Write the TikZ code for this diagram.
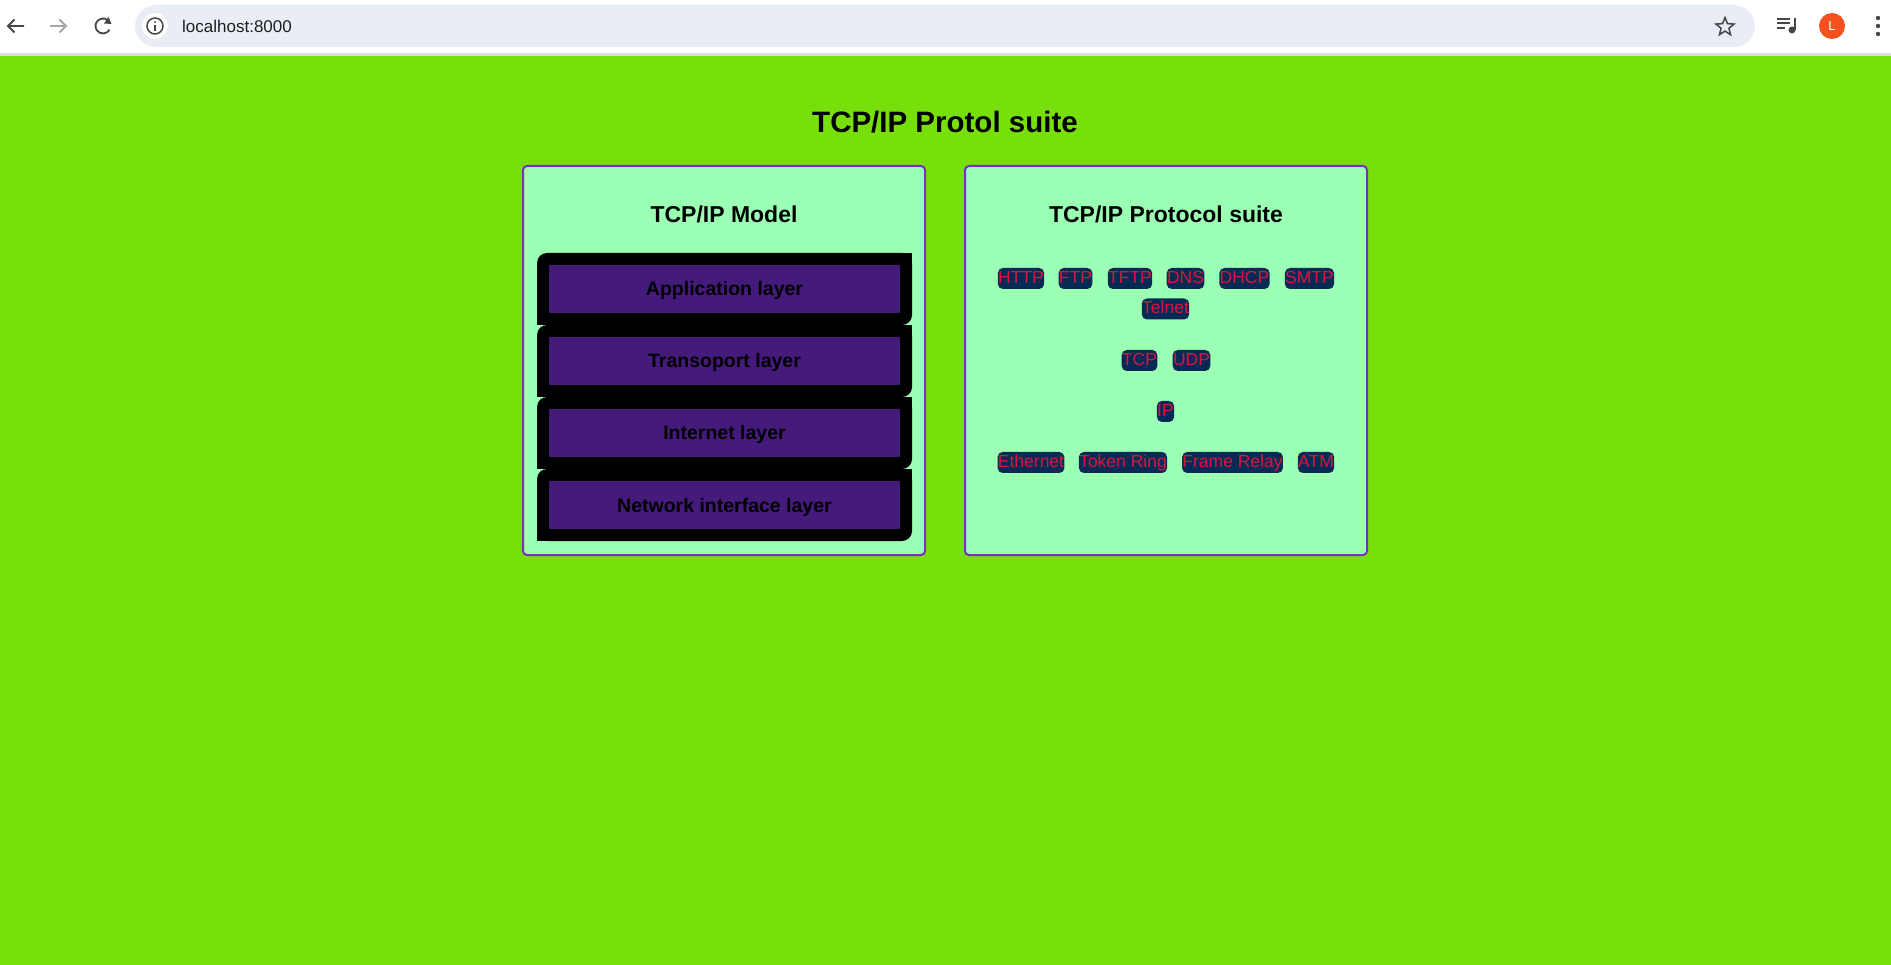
\documentclass[tikz,border=0pt]{standalone}
\usepackage{fontspec}
\setmainfont{Liberation Sans}
\usetikzlibrary{shapes.geometric}

\definecolor{pagebg}{HTML}{77E00B}
\definecolor{panelfill}{HTML}{9BFFB4}
\definecolor{panelborder}{HTML}{7B2FBE}
\definecolor{layerfill}{HTML}{441A7B}
\definecolor{tagfill}{HTML}{052A55}
\definecolor{tagtext}{HTML}{DC143C}
\definecolor{urlbar}{HTML}{E9EEF6}
\definecolor{chromeicon}{HTML}{474747}
\definecolor{avatar}{HTML}{F4511E}

\begin{document}
\begin{tikzpicture}[
        x=1pt, y=-1pt,
        title/.style={font=\fontsize{29.5}{34}\selectfont\bfseries, anchor=base},
        heading/.style={font=\fontsize{23}{27}\selectfont\bfseries, anchor=base},
        panel/.style={draw=panelborder, line width=2pt, fill=panelfill, rounded corners=4pt},
        layerframe/.style={fill=black, rounded corners=10pt},
        layer/.style={fill=layerfill, minimum width=351, minimum height=48, inner sep=0pt,
            text height=14pt, text depth=0pt, font=\fontsize{19.5}{23}\selectfont\bfseries},
        tag/.style={fill=tagfill, text=tagtext, rounded corners=5pt, inner xsep=0.3pt, inner ysep=0pt,
            minimum height=21, text height=13.5pt, text depth=3.5pt, font=\fontsize{17.5}{21}\selectfont},
        icon/.style={draw=chromeicon, line width=1.8pt}
    ]
        \useasboundingbox (0,0) rectangle (1891,965);

        % Browser bar
        \fill[white] (0,0) rectangle (1891,53);
        \fill[black!13] (0,53) rectangle (1891,56);
        \fill[urlbar, rounded corners=21pt] (135,5) rectangle (1755,47);
        \fill[white] (155,26) circle (13);
        \draw[icon, line width=1.5pt] (155,26) circle (8);
        \fill[chromeicon] (155,22) circle (1.2);
        \draw[icon, line width=1.6pt] (155,25) -- (155,31);
        \node[anchor=west, text=black!88, font=\fontsize{17}{20}\selectfont, inner sep=0pt] (url) at (182,26) {localhost:8000};
        \draw[icon] (24,26) -- (8,26) (14.5,19.5) -- (8,26) -- (14.5,32.5);
        \draw[icon, draw=black!35] (50,26) -- (66,26) (59.5,19.5) -- (66,26) -- (59.5,32.5);
        \draw[icon] (103,26) ++(-35:7.5) arc[start angle=-35, end angle=-330, radius=7.5];
        \fill[chromeicon] (108.5,17) -- (111.5,24) -- (104,23.5) -- cycle;
        \node[star, star points=5, star point ratio=2.3, draw=chromeicon, line width=1.5pt, minimum size=19, inner sep=0pt] (bookmark) at (1725,27) {};
        \draw[icon, line width=2pt] (1777,19) -- (1790,19) (1777,23.5) -- (1790,23.5) (1777,28) -- (1785,28);
        \draw[icon, line width=2pt] (1795,18) -- (1795,30);
        \fill[chromeicon] (1792,30) circle (3.5);
        \fill[avatar] (1832,26) circle (13);
        \node[text=white, font=\fontsize{13}{15}\selectfont, inner sep=0pt] (profile) at (1832,26) {L};
        \foreach \dy in {18,26,34}
            \fill[chromeicon] (1878,\dy) circle (2.2);

        % Page
        \fill[pagebg] (0,56) rectangle (1891,965);
        \node[title] (pagetitle) at (945,133) {TCP/IP Protol suite};

        % TCP/IP model panel
        \draw[panel] (523,166) rectangle (925,555);
        \node[heading] (modelhead) at (724,223) {TCP/IP Model};
        \foreach \top in {253,325,397,469} {
            \fill[layerframe] (537,\top) rectangle (912,\top+72);
            \fill[black] (890,\top) rectangle (912,\top+22);
            \fill[black] (537,\top+50) rectangle (559,\top+72);
        }
        \node[layer] (app) at (724.5,289) {Application layer};
        \node[layer] (trans) at (724.5,361) {Transoport layer};
        \node[layer] (inet) at (724.5,433) {Internet layer};
        \node[layer] (netif) at (724.5,505) {Network interface layer};

        % Protocol suite panel
        \draw[panel] (965,166) rectangle (1367,555);
        \node[heading] (suitehead) at (1166,223) {TCP/IP Protocol suite};
        \node[tag] (http) at (1021,278.5) {HTTP};
        \node[tag] (ftp) at (1075.5,278.5) {FTP};
        \node[tag] (tftp) at (1130,278.5) {TFTP};
        \node[tag] (dns) at (1185.5,278.5) {DNS};
        \node[tag] (dhcp) at (1244.5,278.5) {DHCP};
        \node[tag] (smtp) at (1309.5,278.5) {SMTP};
        \node[tag] (telnet) at (1165.5,309) {Telnet};
        \node[tag] (tcp) at (1139.5,360.5) {TCP};
        \node[tag] (udp) at (1191.5,360.5) {UDP};
        \node[tag] (ip) at (1165.5,411.5) {IP};
        \node[tag] (ether) at (1031,462.5) {Ethernet};
        \node[tag] (token) at (1123,462.5) {Token Ring};
        \node[tag] (frame) at (1232.5,462.5) {Frame Relay};
        \node[tag] (atm) at (1316,462.5) {ATM};
    \end{tikzpicture}
\end{document}
